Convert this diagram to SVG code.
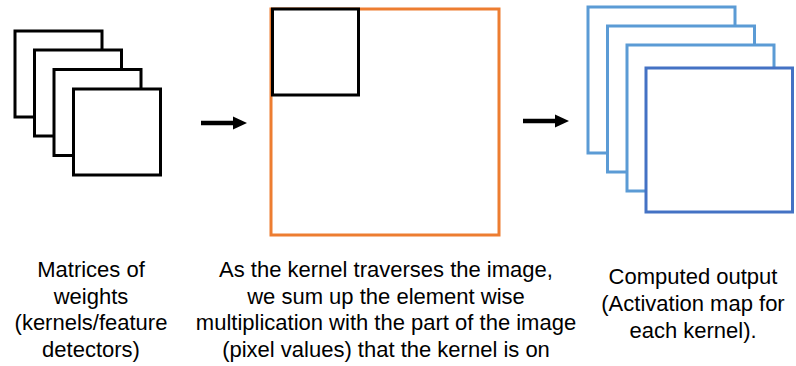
<svg xmlns="http://www.w3.org/2000/svg" width="796" height="366" viewBox="0 0 796 366">
<style>
.k{fill:#fff;stroke:#000;stroke-width:3}
.lb{fill:#fff;stroke:#5B9BD5;stroke-width:3}
.db{fill:#fff;stroke:#4472C4;stroke-width:3}
.img{fill:#fff;stroke:#ED7D31;stroke-width:3}
.t{font-family:"Liberation Sans",Arial,sans-serif;font-size:22px;fill:#000;text-anchor:middle}
.ar{stroke:#000;stroke-width:4.5;fill:none}
</style>
<rect width="796" height="366" fill="#fff"/>
<g id="kernels">
<rect class="k" x="15" y="31" width="87" height="86"/>
<rect class="k" x="34.5" y="50" width="87" height="86"/>
<rect class="k" x="54" y="69.5" width="87" height="86"/>
<rect class="k" x="73.5" y="89" width="87" height="86"/>
</g>
<g id="image">
<rect class="img" x="271" y="9" width="228" height="226"/>
<rect class="k" x="272.5" y="9" width="86" height="86"/>
</g>
<g id="output">
<rect class="lb" x="588" y="7" width="147" height="146"/>
<rect class="lb" x="607.5" y="26" width="147" height="146"/>
<rect class="lb" x="627" y="45" width="147" height="146"/>
<rect class="db" x="646" y="68" width="146.5" height="144"/>
</g>
<g id="connectors">
<line class="ar" x1="201" y1="123" x2="236" y2="123"/>
<polygon points="233,116.5 247,123 233,129.5" fill="#000"/>
<line class="ar" x1="523" y1="121" x2="558" y2="121"/>
<polygon points="555,114.5 569,121 555,127.5" fill="#000"/>
</g>
<g id="label-kernels" class="t">
<text x="91" y="277">Matrices of</text>
<text x="91" y="303.5">weights</text>
<text x="91" y="330">(kernels/feature</text>
<text x="91" y="356.5">detectors)</text>
</g>
<g id="label-image" class="t">
<text x="386" y="277">As the kernel traverses the image,</text>
<text x="386" y="303.5">we sum up the element wise</text>
<text x="386" y="330">multiplication with the part of the image</text>
<text x="386" y="356.5">(pixel values) that the kernel is on</text>
</g>
<g id="label-output" class="t">
<text x="693" y="284">Computed output</text>
<text x="693" y="311">(Activation map for</text>
<text x="693" y="338">each kernel).</text>
</g>
</svg>
